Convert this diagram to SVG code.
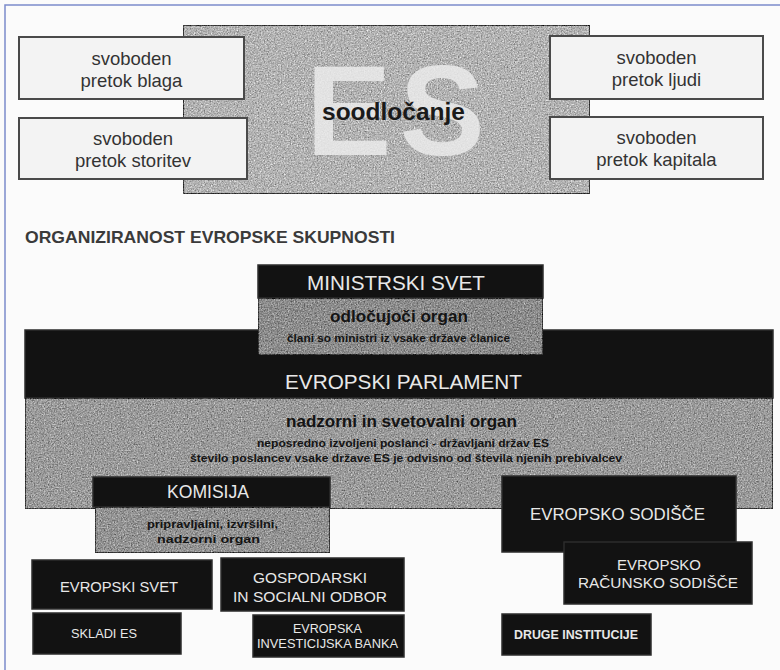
<svg xmlns="http://www.w3.org/2000/svg" width="780" height="670" viewBox="0 0 780 670">
<defs>
<filter id="grain" x="0" y="0" width="1" height="1" color-interpolation-filters="sRGB">
<feTurbulence type="fractalNoise" baseFrequency="0.7" numOctaves="2" seed="7" result="t"/>
<feColorMatrix in="t" type="matrix" values="0.33 0.33 0.33 0 0 0.33 0.33 0.33 0 0 0.33 0.33 0.33 0 0 0 0 0 0 1" result="g"/>
<feComposite in="SourceGraphic" in2="g" operator="arithmetic" k1="0" k2="1" k3="1.1" k4="-0.55" result="c"/>
<feComposite in="c" in2="SourceGraphic" operator="in"/>
</filter>
<style>
text{font-family:"Liberation Sans",Arial,Helvetica,sans-serif}
.wbox{fill:#f3f3f3;stroke:#4a4a4a;stroke-width:2}
.wt{font-size:18.5px;fill:#333;text-anchor:middle}
.blk{fill:#121212;stroke:#2c2c2c;stroke-width:1.5}
.gry{stroke:#1e1e1e;stroke-width:1.5;filter:url(#grain)}
.lt{fill:#e8e8e8;text-anchor:middle}
.dk{fill:#141414;text-anchor:middle;font-weight:bold}
</style>
</defs>
<rect x="0" y="0" width="780" height="670" fill="#fbfbfb"/>
<path d="M5,670 V5 H780" fill="none" stroke="#7c8ccc" stroke-width="1.5"/>

<g id="es-core">
<rect x="183" y="25" width="407" height="169" fill="#b3b3b3" stroke="#3a3a3a" stroke-width="2" filter="url(#grain)"/>
<text x="306" y="155" font-size="128" font-weight="bold" fill="#ebebeb" fill-opacity="0.85" letter-spacing="8">ES</text>
<text x="393.5" y="120" font-size="24.5" font-weight="bold" fill="#1a1a1a" text-anchor="middle">soodločanje</text>
</g>

<g id="blaga">
<rect class="wbox" x="19" y="37" width="225" height="62"/>
<text class="wt" x="131.5" y="65">svoboden</text>
<text class="wt" x="131.5" y="87">pretok blaga</text>
</g>
<g id="storitev">
<rect class="wbox" x="19" y="118" width="228" height="61"/>
<text class="wt" x="133" y="145">svoboden</text>
<text class="wt" x="133" y="167">pretok storitev</text>
</g>
<g id="ljudi">
<rect class="wbox" x="550" y="36" width="213" height="63"/>
<text class="wt" x="656.5" y="64">svoboden</text>
<text class="wt" x="656.5" y="86">pretok ljudi</text>
</g>
<g id="kapitala">
<rect class="wbox" x="550" y="117" width="213" height="62"/>
<text class="wt" x="656.5" y="144">svoboden</text>
<text class="wt" x="656.5" y="166">pretok kapitala</text>
</g>

<text id="title" x="25" y="243" font-size="16.5" font-weight="bold" fill="#3a3a3a" textLength="370" lengthAdjust="spacingAndGlyphs">ORGANIZIRANOST EVROPSKE SKUPNOSTI</text>

<g id="parlament">
<rect class="blk" x="25" y="330" width="748" height="68"/>
<rect class="gry" x="25" y="398" width="748" height="111" fill="#9b9b9b"/>
<text class="lt" x="403.5" y="389" font-size="21" textLength="237" lengthAdjust="spacingAndGlyphs">EVROPSKI PARLAMENT</text>
<text class="dk" x="401.5" y="427" font-size="16.5" textLength="231" lengthAdjust="spacingAndGlyphs">nadzorni in svetovalni organ</text>
<text class="dk" x="403" y="447" font-size="11" textLength="292" lengthAdjust="spacingAndGlyphs">neposredno izvoljeni poslanci - državljani držav ES</text>
<text class="dk" x="406" y="462" font-size="11" textLength="432" lengthAdjust="spacingAndGlyphs">število poslancev vsake države ES je odvisno od števila njenih prebivalcev</text>
</g>

<g id="ministrski-svet">
<rect class="blk" x="258" y="265" width="285" height="33"/>
<rect class="gry" x="258" y="298" width="285" height="57" fill="#8d8d8d"/>
<text class="lt" x="396" y="290" font-size="21" textLength="178" lengthAdjust="spacingAndGlyphs">MINISTRSKI SVET</text>
<text class="dk" x="399" y="322" font-size="17" textLength="138" lengthAdjust="spacingAndGlyphs">odločujoči organ</text>
<text class="dk" x="398.5" y="342" font-size="11.5" textLength="223" lengthAdjust="spacingAndGlyphs">člani so ministri iz vsake države članice</text>
</g>

<g id="komisija">
<rect class="blk" x="93" y="477" width="237" height="30"/>
<rect class="gry" x="95" y="507" width="235" height="46" fill="#949494" stroke-width="2"/>
<text class="lt" x="208" y="498" font-size="17.5" textLength="82" lengthAdjust="spacingAndGlyphs">KOMISIJA</text>
<text class="dk" x="212.5" y="528" font-size="11.5" textLength="131" lengthAdjust="spacingAndGlyphs">pripravljalni, izvršilni,</text>
<text class="dk" x="208.5" y="543" font-size="11.5" textLength="103" lengthAdjust="spacingAndGlyphs">nadzorni organ</text>
</g>

<g id="evropsko-sodisce">
<rect class="blk" x="502" y="476" width="234" height="76"/>
<text class="lt" x="617.5" y="520" font-size="17" textLength="175" lengthAdjust="spacingAndGlyphs">EVROPSKO SODIŠČE</text>
</g>
<g id="racunsko-sodisce">
<rect class="blk" x="564" y="542" width="188" height="62"/>
<text class="lt" x="659" y="570" font-size="15" textLength="84" lengthAdjust="spacingAndGlyphs">EVROPSKO</text>
<text class="lt" x="658" y="588" font-size="15" textLength="160" lengthAdjust="spacingAndGlyphs">RAČUNSKO SODIŠČE</text>
</g>

<g id="evropski-svet">
<rect class="blk" x="32" y="560" width="180" height="49"/>
<text class="lt" x="119" y="592" font-size="14.5" textLength="118" lengthAdjust="spacingAndGlyphs">EVROPSKI SVET</text>
</g>
<g id="gospodarski-odbor">
<rect class="blk" x="221" y="558" width="183" height="53"/>
<text class="lt" x="310" y="583" font-size="15.3" textLength="114" lengthAdjust="spacingAndGlyphs">GOSPODARSKI</text>
<text class="lt" x="310" y="602" font-size="15.3" textLength="154" lengthAdjust="spacingAndGlyphs">IN SOCIALNI ODBOR</text>
</g>
<g id="skladi-es">
<rect class="blk" x="33" y="613" width="148" height="41"/>
<text class="lt" x="104" y="638" font-size="13.5" textLength="66" lengthAdjust="spacingAndGlyphs">SKLADI ES</text>
</g>
<g id="investicijska-banka">
<rect class="blk" x="253" y="615" width="151" height="42"/>
<text class="lt" x="327.5" y="633" font-size="12.8" textLength="69" lengthAdjust="spacingAndGlyphs">EVROPSKA</text>
<text class="lt" x="327.5" y="648" font-size="12.8" textLength="141" lengthAdjust="spacingAndGlyphs">INVESTICIJSKA BANKA</text>
</g>
<g id="druge-institucije">
<rect class="blk" x="502" y="614" width="149" height="41"/>
<text class="lt" x="576" y="639" font-size="13" font-weight="bold" textLength="124" lengthAdjust="spacingAndGlyphs">DRUGE INSTITUCIJE</text>
</g>
</svg>
